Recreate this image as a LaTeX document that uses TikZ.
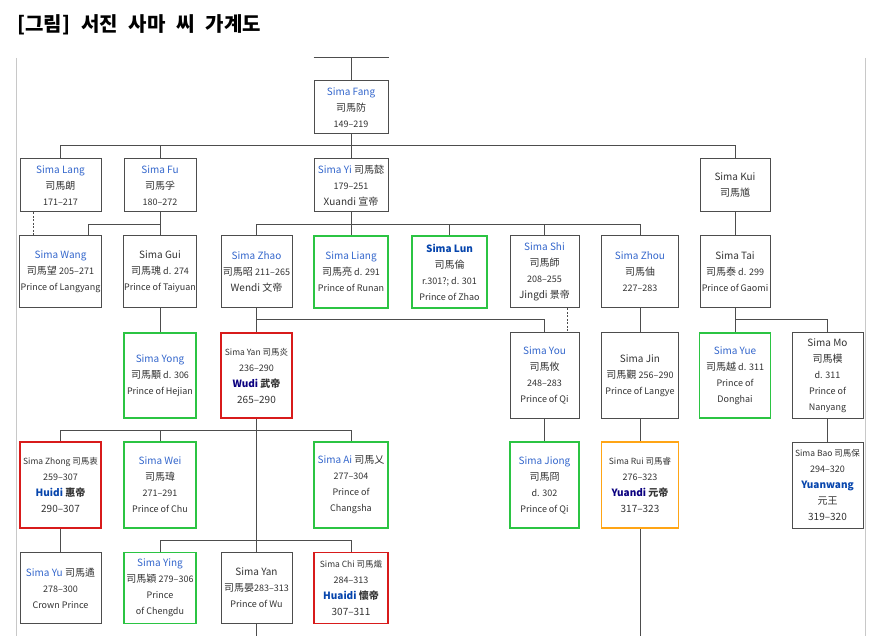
\documentclass[tikz,border=0pt]{standalone}
\usepackage{fontspec}
\setmainfont{Noto Sans CJK KR}
\usepackage{tikz}
\usetikzlibrary{positioning,calc}
\definecolor{linkblue}{HTML}{3366CC}
\definecolor{boldblue}{HTML}{0645AD}
\definecolor{visitblue}{HTML}{0B0080}
\definecolor{txtgray}{HTML}{333333}
\definecolor{linegray}{HTML}{4D4D4D}
\definecolor{framegray}{HTML}{C8C8C8}
\definecolor{kingred}{HTML}{D81B1B}
\definecolor{princegreen}{HTML}{2BC443}
\definecolor{eastorange}{HTML}{FFA515}
\newcommand{\plk}[1]{\textcolor{linkblue}{#1}}
\newcommand{\pbd}[2]{{\bfseries\textcolor{#1}{#2}}}
\newcommand{\psm}{\fontsize{9}{16}\selectfont}
\newcommand{\ptn}{\fontsize{8.5}{16}\selectfont}

\begin{document}
\begin{tikzpicture}[x=1pt,y=-1pt,
  pbox/.style={draw=linegray,line width=1pt,fill=white,align=center,inner sep=1pt,text=txtgray,font=\fontsize{10}{16}\selectfont},
  prince/.style={pbox,draw=princegreen,line width=1.8pt},
  emperor/.style={pbox,draw=kingred,line width=1.8pt},
  dongjin/.style={pbox,draw=eastorange,line width=1.8pt},
  sz/.style 2 args={minimum width=#1pt,minimum height=#2pt},
  tie/.style={draw=linegray,line width=1pt},
  adopt/.style={tie,dash pattern=on 2pt off 1.5pt}]
  \useasboundingbox (0,0) rectangle (884,636);
  \node[anchor=west,inner sep=0,font=\fontsize{20}{20}\selectfont\bfseries] (title) at (17,25) {\spaceskip=11pt\relax[그림] 서진 사마 씨 가계도};
  \draw[framegray,line width=1pt] (16,58) -- (16,636) (865,58) -- (865,636);

  \node[pbox,sz={74}{53}] (fang) at (351,107.5) {\plk{Sima Fang}\\司馬防\\{\psm 149--219}};

  \node[pbox,sz={81}{53}] (lang) at (60.5,185.5) {\plk{Sima Lang}\\司馬朗\\{\psm 171--217}};
  \node[pbox,sz={72}{53}] (fu) at (160,185.5) {\plk{Sima Fu}\\司馬孚\\{\psm 180--272}};
  \node[pbox,sz={74}{53}] (yi) at (351,185.5) {\plk{Sima Yi} 司馬懿\\{\psm 179--251}\\Xuandi 宣帝};
  \node[pbox,sz={70}{53}] (kui) at (735,185.5) {Sima Kui\\司馬馗};

  \node[pbox,sz={81}{72}] (wang) at (60.5,272) {\plk{Sima Wang}\\司馬望 {\psm 205--271}\\{\psm Prince of Langyang}};
  \node[pbox,sz={72}{72}] (gui) at (160,272) {Sima Gui\\司馬瑰 {\psm d. 274}\\{\psm Prince of Taiyuan}};
  \node[pbox,sz={71}{72}] (zhao) at (256.5,272) {\plk{Sima Zhao}\\司馬昭 {\psm 211--265}\\Wendi 文帝};
  \node[prince,sz={74}{72}] (liang) at (351,272) {\plk{Sima Liang}\\司馬亮 {\psm d. 291}\\{\psm Prince of Runan}};
  \node[prince,sz={75}{72}] (lun) at (449.5,272) {\pbd{boldblue}{Sima Lun}\\司馬倫\\{\psm r.301?; d. 301}\\{\psm Prince of Zhao}};
  \node[pbox,sz={69}{72}] (shi) at (544.5,272) {\plk{Sima Shi}\\司馬師\\{\psm 208--255}\\Jingdi 景帝};
  \node[pbox,sz={77}{72}] (zhou) at (640,272) {\plk{Sima Zhou}\\司馬伷\\{\psm 227--283}};
  \node[pbox,sz={70}{72}] (tai) at (735,272) {Sima Tai\\司馬泰 {\psm d. 299}\\{\psm Prince of Gaomi}};

  \node[prince,sz={72}{85}] (yong) at (160,375.5) {\plk{Sima Yong}\\司馬顒 {\psm d. 306}\\{\psm Prince of Hejian}};
  \node[emperor,sz={71}{85}] (yan) at (256.5,375.5) {{\ptn Sima Yan 司馬炎}\\{\psm 236--290}\\{\bfseries\textcolor{visitblue}{Wudi} 武帝}\\265--290};
  \node[pbox,sz={69}{85}] (you) at (544.5,375.5) {\plk{Sima You}\\司馬攸\\{\psm 248--283}\\{\psm Prince of Qi}};
  \node[pbox,sz={77}{85}] (jin) at (640,375.5) {Sima Jin\\司馬覲 {\psm 256--290}\\{\psm Prince of Langye}};
  \node[prince,sz={71}{85}] (yue) at (735,375.5) {\plk{Sima Yue}\\司馬越 {\psm d. 311}\\{\psm Prince of}\\{\psm Donghai}};
  \node[pbox,sz={71}{85}] (mo) at (827.5,375.5) {Sima Mo\\司馬模\\{\psm d. 311}\\{\psm Prince of}\\{\psm Nanyang}};

  \node[emperor,sz={81}{86}] (zhong) at (60.5,485) {{\ptn Sima Zhong 司馬衷}\\{\psm 259--307}\\{\bfseries\textcolor{boldblue}{Huidi} 惠帝}\\290--307};
  \node[prince,sz={72}{86}] (wei) at (160,485) {\plk{Sima Wei}\\司馬瑋\\{\psm 271--291}\\{\psm Prince of Chu}};
  \node[prince,sz={74}{86}] (ai) at (351,485) {\plk{Sima Ai} 司馬乂\\{\psm 277--304}\\{\psm Prince of}\\{\psm Changsha}};
  \node[prince,sz={69}{86}] (jiong) at (544.5,485) {\plk{Sima Jiong}\\司馬冏\\{\psm d. 302}\\{\psm Prince of Qi}};
  \node[dongjin,sz={77}{86}] (rui) at (640,485) {{\ptn Sima Rui 司馬睿}\\{\psm 276--323}\\{\bfseries\textcolor{visitblue}{Yuandi} 元帝}\\317--323};
  \node[pbox,sz={71}{86}] (bao) at (827.5,485) {{\ptn Sima Bao 司馬保}\\{\psm 294--320}\\\pbd{boldblue}{Yuanwang}\\元王\\319--320};

  \node[pbox,sz={81}{71}] (yu) at (60.5,588) {\plk{Sima Yu} 司馬遹\\{\psm 278--300}\\{\psm Crown Prince}};
  \node[prince,sz={72}{71}] (ying) at (160,588) {\plk{Sima Ying}\\司馬穎 {\psm 279--306}\\{\psm Prince}\\{\psm of Chengdu}};
  \node[pbox,sz={71}{71}] (yanw) at (256.5,588) {Sima Yan\\司馬晏{\psm 283--313}\\{\psm Prince of Wu}};
  \node[emperor,sz={74}{71}] (chi) at (351,588) {{\ptn Sima Chi 司馬熾}\\{\psm 284--313}\\{\bfseries\textcolor{boldblue}{Huaidi} 懷帝}\\307--311};

  \coordinate (top) at (351,58);
  \coordinate (b1) at (0,146);
  \coordinate (b2) at (0,225);
  \coordinate (b3) at (0,320);
  \coordinate (b4) at (0,430);
  \coordinate (b5) at (0,540);
  \coordinate (bot) at (0,636);

  \draw[tie] (top -| fang.west) -- (top -| fang.east);
  \draw[tie] (top) -- (fang.north);
  \draw[tie] (fang.south) -- (yi.north);
  \draw[tie] (lang.north) |- (kui.north |- b1) -- (kui.north);
  \draw[tie] (fu.north) -- (fu.north |- b1);
  \draw[tie] (fu.south) -- (gui.north);
  \draw[tie] ([xshift=27.5pt]wang.north) |- (fu.south |- b2);
  \draw[adopt] ([xshift=-27.5pt]lang.south) -- ([xshift=-27.5pt]wang.north);
  \draw[tie] (yi.south) -- (liang.north);
  \draw[tie] (zhao.north) |- (zhou.north |- b2) -- (zhou.north);
  \foreach \c in {lun,shi} \draw[tie] (\c.north) -- (\c.north |- b2);
  \draw[tie] (kui.south) -- (tai.north);
  \draw[tie] (gui.south) -- (yong.north);
  \draw[tie] (zhao.south) -- (yan.north);
  \draw[tie] (zhao.south |- b3) -| (you.north);
  \draw[adopt] ([xshift=22.5pt]shi.south) -- ([xshift=22.5pt]you.north);
  \draw[tie] (zhou.south) -- (jin.north);
  \draw[tie] (tai.south) -- (yue.north);
  \draw[tie] (tai.south |- b3) -| (mo.north);
  \draw[tie] (yan.south) -- (yanw.north);
  \draw[tie] (zhong.north) |- (ai.north |- b4) -- (ai.north);
  \draw[tie] (wei.north) -- (wei.north |- b4);
  \draw[tie] (ying.north) |- (chi.north |- b5) -- (chi.north);
  \draw[tie] (you.south) -- (jiong.north);
  \draw[tie] (jin.south) -- (rui.north);
  \draw[tie] (mo.south) -- (bao.north);
  \draw[tie] (zhong.south) -- (yu.north);
  \draw[tie] (yanw.south) -- (yanw.south |- bot);
  \draw[tie] (rui.south) -- (rui.south |- bot);
\end{tikzpicture}
\end{document}
